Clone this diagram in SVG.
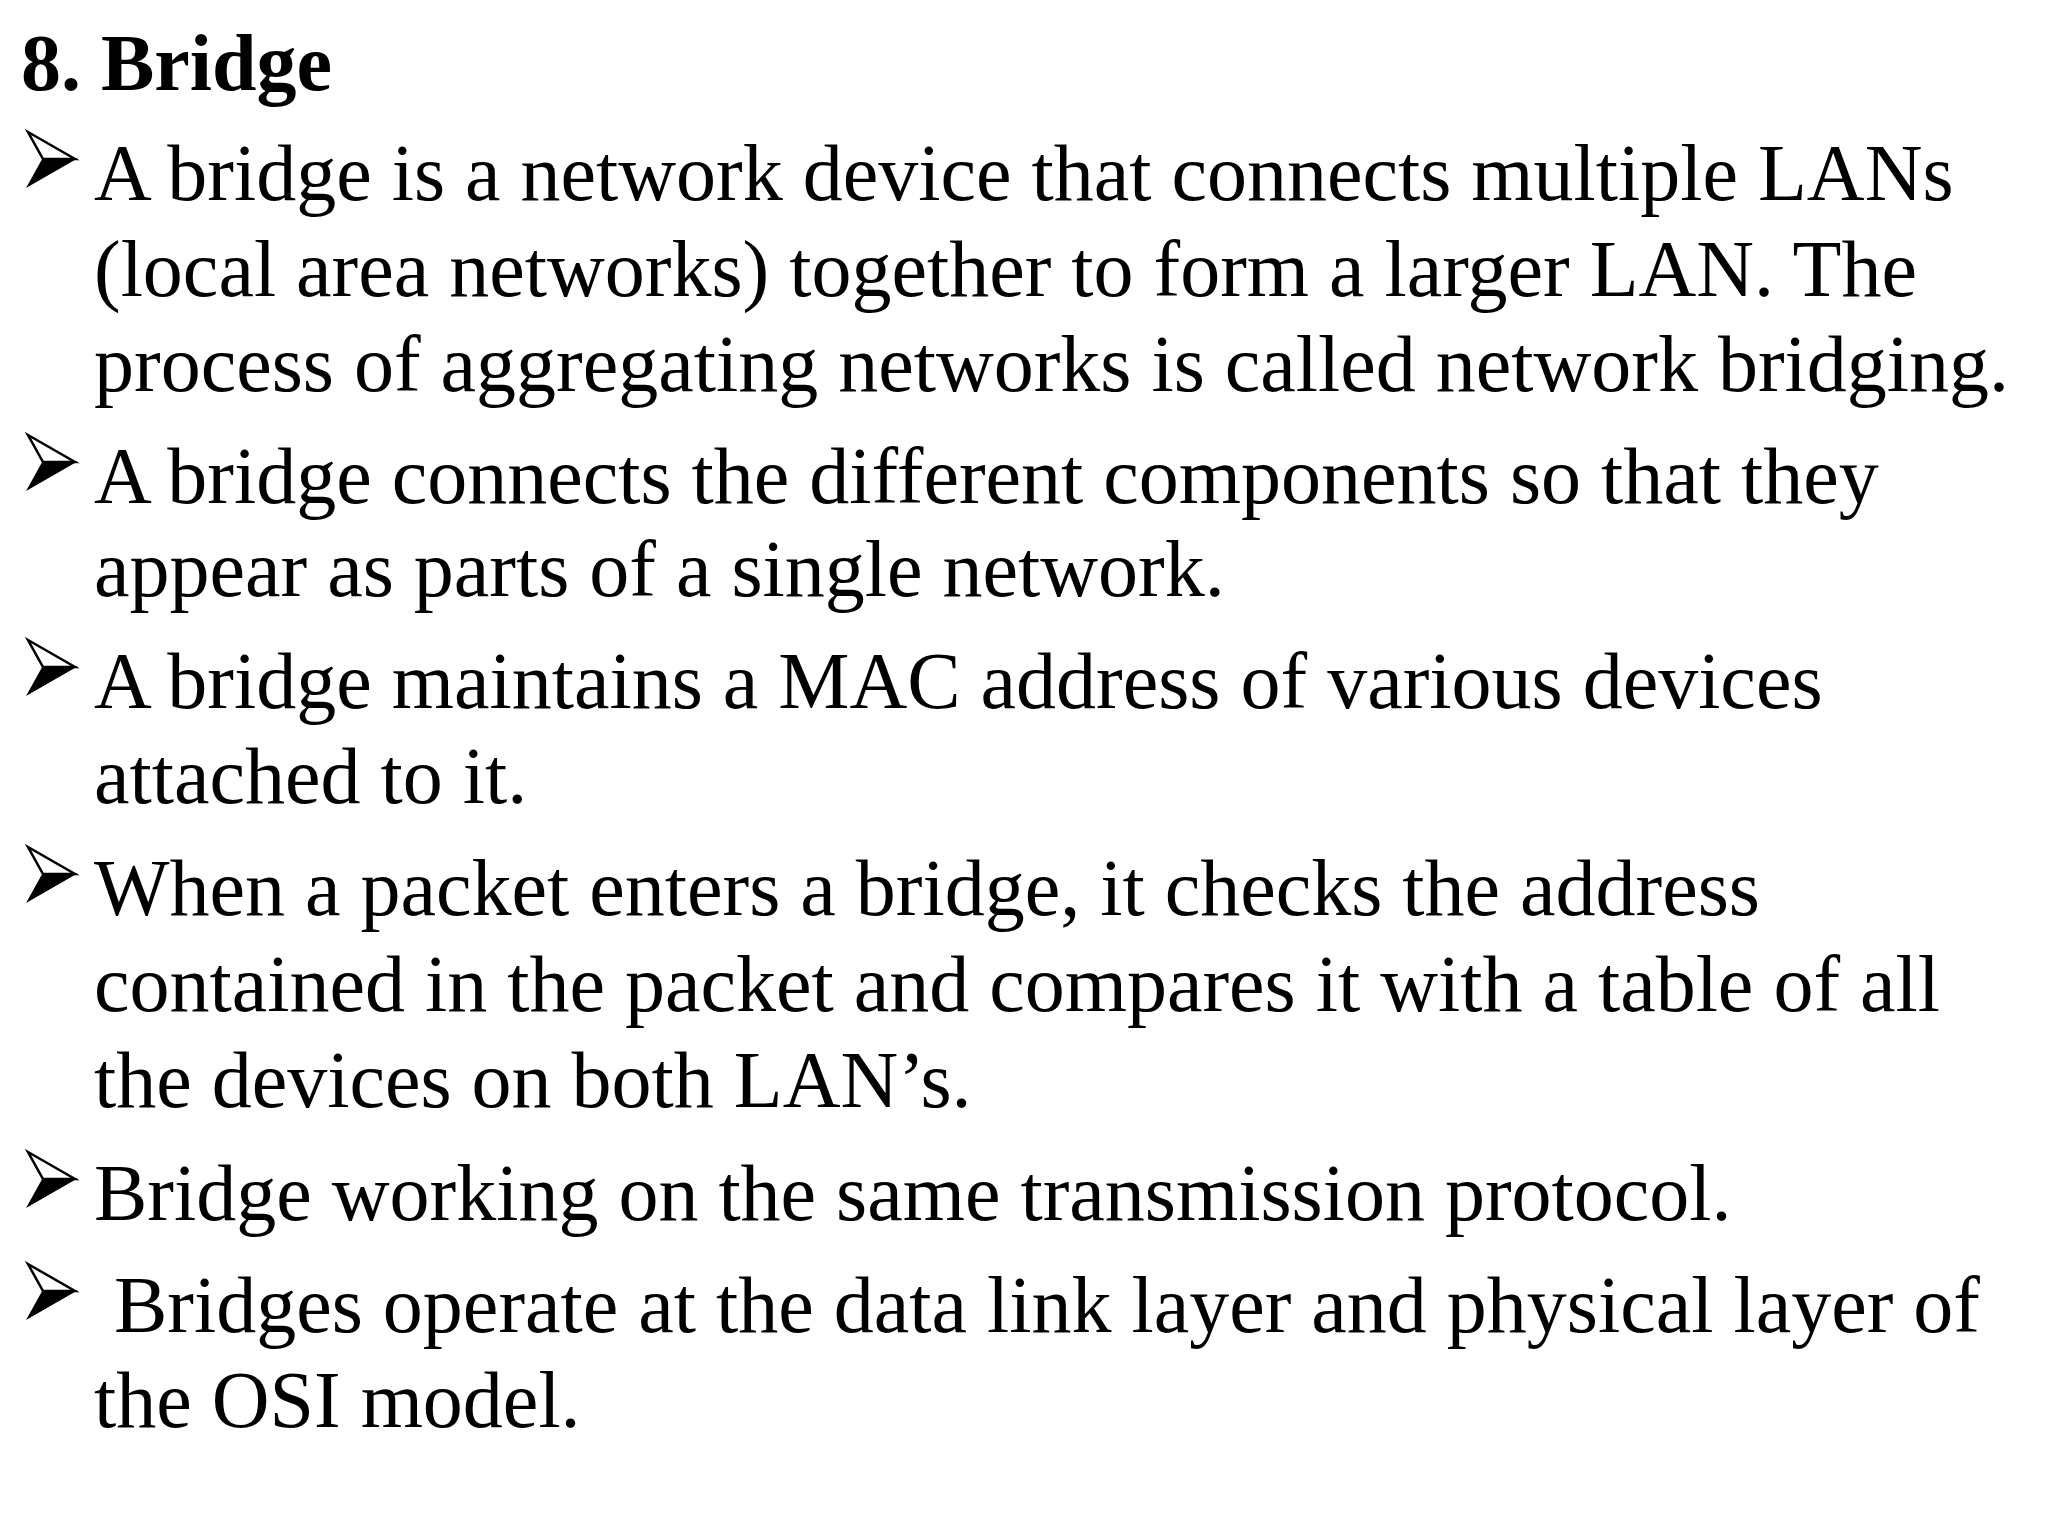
<svg xmlns="http://www.w3.org/2000/svg" width="2048" height="1536" viewBox="0 0 2048 1536">
<defs>
<style>
text{font-family:"Liberation Serif","Times New Roman",serif;font-size:80px;fill:#000}
.t{font-weight:bold}
</style>
<g id="bul">
<polygon points="0,0 47,27 15,27" fill="#fff" stroke="#000" stroke-width="2.5" stroke-linejoin="miter"/>
<polygon points="15,27 47,27 0,54" fill="#000" stroke="#000" stroke-width="1.5"/>
</g>
</defs>
<rect width="2048" height="1536" fill="#fff"/>
<text class="t" x="21" y="90">8. Bridge</text>
<g id="bullets">
<use href="#bul" x="28" y="132"/>
<use href="#bul" x="28" y="435"/>
<use href="#bul" x="28" y="640"/>
<use href="#bul" x="28" y="847"/>
<use href="#bul" x="28" y="1152"/>
<use href="#bul" x="28" y="1264"/>
</g>
<g id="body">
<text x="94" y="200">A bridge is a network device that connects multiple LANs</text>
<text x="94" y="296">(local area networks) together to form a larger LAN. The</text>
<text x="94" y="391">process of aggregating networks is called network bridging.</text>
<text x="94" y="503">A bridge connects the different components so that they</text>
<text x="94" y="596">appear as parts of a single network.</text>
<text x="94" y="708">A bridge maintains a MAC address of various devices</text>
<text x="94" y="803">attached to it.</text>
<text x="94" y="915">When a packet enters a bridge, it checks the address</text>
<text x="94" y="1011">contained in the packet and compares it with a table of all</text>
<text x="94" y="1107">the devices on both LAN’s.</text>
<text x="94" y="1220">Bridge working on the same transmission protocol.</text>
<text x="114" y="1332">Bridges operate at the data link layer and physical layer of</text>
<text x="94" y="1427">the OSI model.</text>
</g>
</svg>
